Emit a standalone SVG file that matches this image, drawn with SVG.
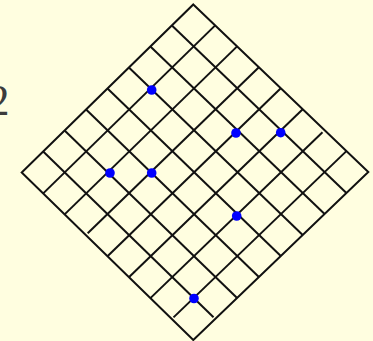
<svg xmlns="http://www.w3.org/2000/svg" width="373" height="341" viewBox="0 0 373 341">
  <style>
    .edge { fill: none; stroke: #111; stroke-width: 2; stroke-linejoin: miter; }
    .grid line { stroke: #111; stroke-width: 2; stroke-linecap: butt; }
    .dot { fill: #0000ff; }
    .lbl { font-family: "Liberation Serif", "Times New Roman", serif; font-size: 44px; fill: #3c3c3c; }
  </style>
  <rect x="0" y="0" width="373" height="341" fill="#fffee0"/>
  <text class="lbl" x="-12.6" y="115">2</text>
  <g id="grid" class="grid">
    <polygon class="edge" points="193.3,4.5 368.3,172 193.3,340 21.7,172.5"/>
    <line x1="215.2" y1="25.4" x2="43.2" y2="193.4"/>
    <line x1="237.1" y1="46.4" x2="64.6" y2="214.4"/>
    <line x1="258.9" y1="67.3" x2="87.7" y2="233.2"/>
    <line x1="280.8" y1="88.3" x2="107.5" y2="256.3"/>
    <line x1="302.7" y1="109.2" x2="128.9" y2="277.2"/>
    <line x1="322.5" y1="132.2" x2="150.4" y2="298.1"/>
    <line x1="346.4" y1="151.1" x2="173.5" y2="317.4"/>
    <line x1="171.9" y1="25.5" x2="346.4" y2="193"/>
    <line x1="150.4" y1="46.5" x2="324.6" y2="214"/>
    <line x1="128.9" y1="67.5" x2="302.7" y2="235"/>
    <line x1="107.5" y1="88.5" x2="280.8" y2="256"/>
    <line x1="86.1" y1="109.5" x2="258.9" y2="277"/>
    <line x1="64.6" y1="130.5" x2="237.1" y2="298"/>
    <line x1="43.2" y1="151.5" x2="213.5" y2="317.3"/>
  </g>
  <g id="dots">
    <circle class="dot" cx="151.7" cy="90" r="4.8"/>
    <circle class="dot" cx="236" cy="133" r="4.8"/>
    <circle class="dot" cx="280.7" cy="132.7" r="4.8"/>
    <circle class="dot" cx="110" cy="173" r="4.8"/>
    <circle class="dot" cx="151.7" cy="173" r="4.8"/>
    <circle class="dot" cx="236.7" cy="216" r="4.8"/>
    <circle class="dot" cx="194" cy="298.5" r="4.8"/>
  </g>
</svg>
